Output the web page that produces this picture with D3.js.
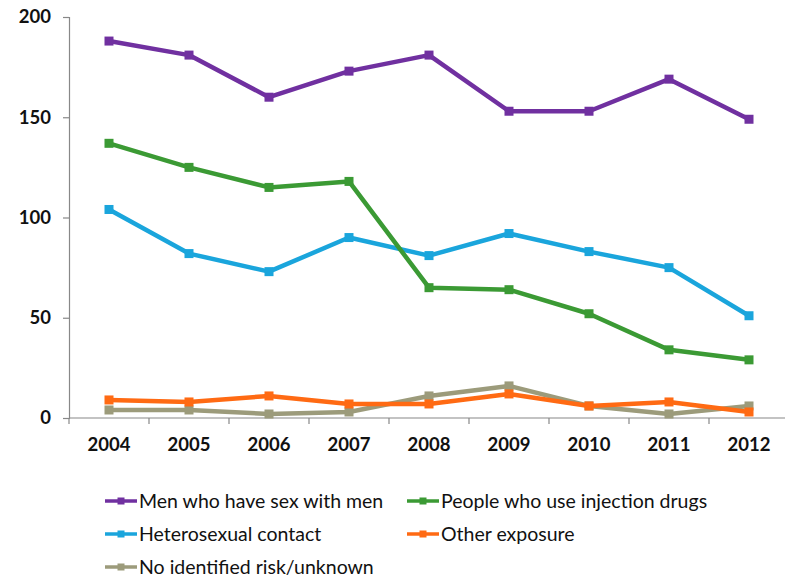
<!DOCTYPE html>
<html>
<head>
<meta charset="utf-8">
<script src="https://cdn.jsdelivr.net/npm/d3@7"></script>
<style>
  html, body { margin: 0; padding: 0; background: #fff; }
  svg { display: block; }
  text { font-family: Lato, "Open Sans", sans-serif; fill: #111; }
</style>
</head>
<body>
<svg id="chart" width="785" height="578"></svg>
<script>
const years = ["2004","2005","2006","2007","2008","2009","2010","2011","2012"];
const seriesNames = ["Men who have sex with men","People who use injection drugs","Heterosexual contact","Other exposure","No identified risk/unknown"];
const msm     = [188, 181, 160, 173, 181, 153, 153, 169, 149];
const idu     = [137, 125, 115, 118, 65, 64, 52, 34, 29];
const hetero  = [104, 82, 73, 90, 81, 92, 83, 75, 51];
const other   = [9, 8, 11, 7, 7, 12, 6, 8, 3];
const unknown = [4, 4, 2, 3, 11, 16, 6, 2, 6];
const yTicks  = [0, 50, 100, 150, 200];
const colors  = ["#7030A0", "#3B9A34", "#1AA5DC", "#FF6A13", "#9C9B7B"];

const seriesValues = [msm, idu, hetero, other, unknown];
const series = seriesNames.map((name, i) => ({ name, values: seriesValues[i], color: colors[i] }));

const svg = d3.select("#chart");
const mLeft = 69, mRight = 789, mTop = 17, mBottom = 418;

const x = d3.scaleBand().domain(years).range([mLeft, mRight]).padding(0);
const y = d3.scaleLinear().domain([0, 200]).range([mBottom, mTop]);

// y axis
const yAxis = d3.axisLeft(y).tickValues(yTicks).tickSize(6).tickPadding(12).tickFormat(d3.format("d"));
const gy = svg.append("g").attr("transform", `translate(${mLeft},0)`).call(yAxis);
gy.select(".domain").attr("stroke", "#888").attr("stroke-width", 1.2);
gy.selectAll(".tick line").attr("stroke", "#888").attr("stroke-width", 1.2);
gy.selectAll(".tick text").attr("font-size", 18.5).attr("font-weight", "bold")
  .style("font-family", "Lato, sans-serif").attr("fill", "#111");

// x axis with ticks between categories
const gx = svg.append("g").attr("transform", `translate(0,${mBottom})`);
gx.append("line").attr("x1", mLeft).attr("x2", mRight).attr("y1", 0).attr("y2", 0)
  .attr("stroke", "#888").attr("stroke-width", 1.2);
const bounds = years.map(yr => x(yr)).concat([x(years[years.length-1]) + x.bandwidth()]);
gx.selectAll("line.tk").data(bounds).join("line").attr("class", "tk")
  .attr("x1", d => d).attr("x2", d => d).attr("y1", 0).attr("y2", 6)
  .attr("stroke", "#888").attr("stroke-width", 1.2);
gx.selectAll("text.lbl").data(years).join("text").attr("class", "lbl")
  .attr("x", d => x(d) + x.bandwidth() / 2).attr("y", 33)
  .attr("text-anchor", "middle").attr("font-size", 18.5).attr("font-weight", "bold")
  .text(d => d);

const cx = d => x(d) + x.bandwidth() / 2;
const line = d3.line().x((v, i) => cx(years[i])).y(v => y(v));

// draw in reverse so MSM is on top
const plot = svg.append("g");
series.slice().reverse().forEach(s => {
  const g = plot.append("g");
  g.append("path").attr("d", line(s.values)).attr("fill", "none")
    .attr("stroke", s.color).attr("stroke-width", 4.5).attr("stroke-linejoin", "round");
  g.selectAll("rect").data(s.values).join("rect")
    .attr("x", (v, i) => cx(years[i]) - 4.5).attr("y", v => y(v) - 4.5)
    .attr("width", 9).attr("height", 9).attr("fill", s.color);
});

// legend
const legendPos = [
  { x: 105, y: 501 }, { x: 407, y: 501 },
  { x: 105, y: 534 }, { x: 407, y: 534 },
  { x: 105, y: 567 }
];
const lg = svg.append("g");
series.forEach((s, i) => {
  const p = legendPos[i];
  const g = lg.append("g").attr("transform", `translate(${p.x},${p.y})`);
  g.append("line").attr("x1", 0).attr("x2", 32).attr("y1", 0).attr("y2", 0)
    .attr("stroke", s.color).attr("stroke-width", 3.5);
  g.append("rect").attr("x", 12.5).attr("y", -3.5).attr("width", 7).attr("height", 7).attr("fill", s.color);
  g.append("text").attr("x", 34).attr("y", 0).attr("dy", "0.35em")
    .attr("font-size", 19.5).attr("fill", "#000").text(s.name);
});
</script>
</body>
</html>
